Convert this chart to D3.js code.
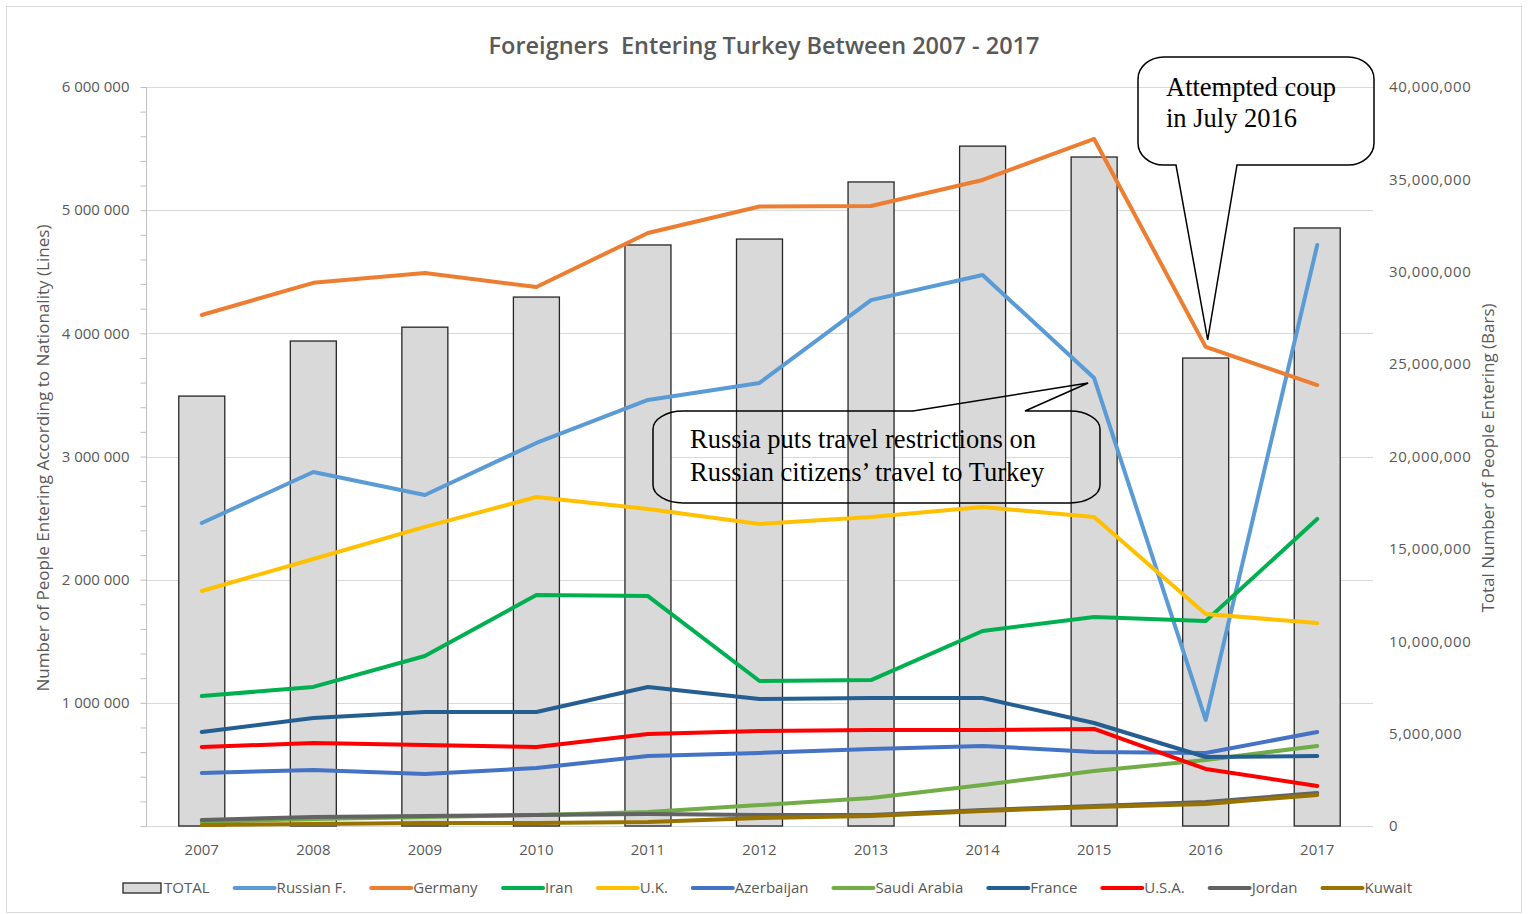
<!DOCTYPE html>
<meta charset="utf-8">
<style>
body { margin: 0; background: #fff; }
svg text { font-family: "Open Sans", sans-serif; fill: #595959; }
.callout text { font-family: "Liberation Serif", "Times New Roman", serif; fill: #000; font-size: 26.5px; }
</style>
<script src="https://cdn.jsdelivr.net/npm/d3@7"></script>
<body>
<svg id="chart" width="1528" height="914"></svg>
<script>
// values
var years = [2007, 2008, 2009, 2010, 2011, 2012, 2013, 2014, 2015, 2016, 2017];
var totals = [23.27e6, 26.25e6, 27.0e6, 28.63e6, 31.45e6, 31.77e6, 34.86e6, 36.8e6, 36.21e6, 25.33e6, 32.37e6];

var russia     = [2.46e6, 2.874e6, 2.687e6, 3.11e6, 3.459e6, 3.597e6, 4.27e6, 4.474e6, 3.637e6, 0.861e6, 4.717e6];
var germany    = [4.149e6, 4.41e6, 4.49e6, 4.376e6, 4.815e6, 5.03e6, 5.034e6, 5.245e6, 5.578e6, 3.89e6, 3.58e6];
var iran       = [1.055e6, 1.129e6, 1.38e6, 1.875e6, 1.867e6, 1.177e6, 1.185e6, 1.583e6, 1.697e6, 1.664e6, 2.493e6];
var uk         = [1.908e6, 2.168e6, 2.428e6, 2.671e6, 2.574e6, 2.452e6, 2.509e6, 2.59e6, 2.509e6, 1.721e6, 1.648e6];
var azerbaijan = [0.43e6, 0.455e6, 0.422e6, 0.471e6, 0.568e6, 0.593e6, 0.625e6, 0.65e6, 0.601e6, 0.593e6, 0.763e6];
var saudi      = [0.032e6, 0.057e6, 0.073e6, 0.089e6, 0.114e6, 0.17e6, 0.227e6, 0.333e6, 0.447e6, 0.536e6, 0.65e6];
var france     = [0.763e6, 0.877e6, 0.926e6, 0.926e6, 1.129e6, 1.031e6, 1.039e6, 1.039e6, 0.836e6, 0.56e6, 0.568e6];
var usa        = [0.641e6, 0.674e6, 0.658e6, 0.641e6, 0.747e6, 0.771e6, 0.779e6, 0.779e6, 0.788e6, 0.463e6, 0.325e6];
var jordan     = [0.049e6, 0.073e6, 0.081e6, 0.089e6, 0.097e6, 0.089e6, 0.089e6, 0.13e6, 0.162e6, 0.195e6, 0.268e6];
var kuwait     = [0.008e6, 0.016e6, 0.024e6, 0.024e6, 0.032e6, 0.065e6, 0.081e6, 0.122e6, 0.154e6, 0.179e6, 0.252e6];

var leftTicks = [0, 1e6, 2e6, 3e6, 4e6, 5e6, 6e6];
var rightTicks = [0, 5e6, 10e6, 15e6, 20e6, 25e6, 30e6, 35e6, 40e6];

var series = [
    { name: "Russian F.",   values: russia,     color: "#5b9bd5" },
    { name: "Germany",      values: germany,    color: "#ed7d31" },
    { name: "Iran",         values: iran,       color: "#00b050" },
    { name: "U.K.",         values: uk,         color: "#ffc000" },
    { name: "Azerbaijan",   values: azerbaijan, color: "#4472c4" },
    { name: "Saudi Arabia", values: saudi,      color: "#70ad47" },
    { name: "France",       values: france,     color: "#255e91" },
    { name: "U.S.A.",       values: usa,        color: "#ff0000" },
    { name: "Jordan",       values: jordan,     color: "#636363" },
    { name: "Kuwait",       values: kuwait,     color: "#997300" }
];

var svg = d3.select("#chart");

// outer frame
svg.append("rect")
    .attr("x", 6.5).attr("y", 6.5).attr("width", 1515).attr("height", 906)
    .attr("fill", "none").attr("stroke", "#d9d9d9");

var x = d3.scaleBand().domain(years).range([146, 1373]);
var yL = d3.scaleLinear().domain([0, 6e6]).range([826, 87]);
var yR = d3.scaleLinear().domain([0, 40e6]).range([826, 87]);
var cx = function(i) { return x(years[i]) + x.bandwidth() / 2; };

svg.append("text")
    .attr("x", 764).attr("y", 54)
    .attr("text-anchor", "middle")
    .style("white-space", "pre")
    .attr("font-size", 23.5).attr("font-weight", 600)
    .text("Foreigners  Entering Turkey Between 2007 - 2017");

// gridlines
svg.append("g").selectAll("line")
    .data(leftTicks)
    .join("line")
    .attr("x1", 146).attr("x2", 1373)
    .attr("y1", function(d) { return Math.round(yL(d)) + 0.5; })
    .attr("y2", function(d) { return Math.round(yL(d)) + 0.5; })
    .attr("stroke", "#d9d9d9");

// left axis with minor ticks every 200 000
var leftAxis = d3.axisLeft(yL)
    .tickValues(d3.range(0, 6e6 + 1, 2e5))
    .tickSize(6)
    .tickFormat(function(d) { return d % 1e6 === 0 && d > 0 ? d3.format(",")(d).replace(/,/g, " ") : ""; });
var gl = svg.append("g").attr("transform", "translate(146.5,0)").call(leftAxis);
gl.selectAll("line, path").attr("stroke", "#bfbfbf");
gl.select(".domain").attr("d", "M0," + yL(6e6) + "V" + yL(0));
gl.selectAll("text").attr("x", -17).attr("font-size", 15).attr("fill", "#595959")
    .style("font-family", "'Open Sans', sans-serif");

// right axis, labels only
var rightAxis = d3.axisRight(yR).tickValues(rightTicks).tickSize(0).tickFormat(d3.format(","));
var gr = svg.append("g").attr("transform", "translate(1373,0)").call(rightAxis);
gr.select(".domain").remove();
gr.selectAll("text").attr("x", 16).attr("font-size", 15).attr("fill", "#595959")
    .attr("letter-spacing", 0.6)
    .style("font-family", "'Open Sans', sans-serif");

// bottom axis labels
var gx = svg.append("g").attr("transform", "translate(0,826)")
    .call(d3.axisBottom(x).tickSize(0).tickPadding(18));
gx.select(".domain").remove();
gx.selectAll("text").attr("font-size", 15).attr("fill", "#595959")
    .style("font-family", "'Open Sans', sans-serif");

// axis titles
svg.append("text")
    .attr("transform", "translate(49,458) rotate(-90)")
    .attr("text-anchor", "middle").attr("font-size", 16)
    .attr("textLength", 467).attr("lengthAdjust", "spacingAndGlyphs")
    .text("Number of People Entering According to Nationality (Lines)");
svg.append("text")
    .attr("transform", "translate(1494,458) rotate(-90)")
    .attr("text-anchor", "middle").attr("font-size", 16)
    .attr("textLength", 309).attr("lengthAdjust", "spacingAndGlyphs")
    .text("Total Number of People Entering (Bars)");

// bars
var barW = 46;
svg.append("g").selectAll("rect")
    .data(totals)
    .join("rect")
    .attr("x", function(d, i) { return cx(i) - barW / 2; })
    .attr("y", function(d) { return yR(d); })
    .attr("width", barW)
    .attr("height", function(d) { return yR(0) - yR(d); })
    .attr("fill", "#d9d9d9")
    .attr("stroke", "#262626")
    .attr("stroke-width", 1.3);

// lines
var line = d3.line()
    .x(function(d, i) { return cx(i); })
    .y(function(d) { return yL(d); });
svg.append("g").selectAll("path")
    .data(series)
    .join("path")
    .attr("d", function(s) { return line(s.values); })
    .attr("fill", "none")
    .attr("stroke", function(s) { return s.color; })
    .attr("stroke-width", 4)
    .attr("stroke-linejoin", "round")
    .attr("stroke-linecap", "round");

// callouts
function calloutPath(x0, y0, x1, y1, rx, ry, side, p1, p2, tip) {
    var p = "M" + (x0 + rx) + "," + y0;
    if (side === "top") p += "L" + p1 + "," + y0 + "L" + tip[0] + "," + tip[1] + "L" + p2 + "," + y0;
    p += "L" + (x1 - rx) + "," + y0 + "A" + rx + "," + ry + " 0 0 1 " + x1 + "," + (y0 + ry);
    p += "L" + x1 + "," + (y1 - ry) + "A" + rx + "," + ry + " 0 0 1 " + (x1 - rx) + "," + y1;
    if (side === "bottom") p += "L" + p2 + "," + y1 + "L" + tip[0] + "," + tip[1] + "L" + p1 + "," + y1;
    p += "L" + (x0 + rx) + "," + y1 + "A" + rx + "," + ry + " 0 0 1 " + x0 + "," + (y1 - ry);
    p += "L" + x0 + "," + (y0 + ry) + "A" + rx + "," + ry + " 0 0 1 " + (x0 + rx) + "," + y0 + "Z";
    return p;
}

var callouts = svg.append("g").attr("class", "callout");
var ruTip = [cx(8) - 6, yL(russia[8]) + 5];
callouts.append("path")
    .attr("d", calloutPath(653, 411, 1100, 503, 30, 18, "top", 913, 1025, ruTip))
    .attr("fill", "none").attr("stroke", "#000").attr("stroke-width", 1.5);
callouts.append("text").attr("x", 690).attr("y", 448).text("Russia puts travel restrictions on");
callouts.append("text").attr("x", 690).attr("y", 481).text("Russian citizens\u2019 travel to Turkey");

var deTip = [cx(9) + 2, yL(germany[9]) - 7];
callouts.append("path")
    .attr("d", calloutPath(1138, 57, 1374, 165, 26, 22, "bottom", 1176, 1237, deTip))
    .attr("fill", "none").attr("stroke", "#000").attr("stroke-width", 1.5);
callouts.append("text").attr("x", 1166).attr("y", 96).text("Attempted coup");
callouts.append("text").attr("x", 1166).attr("y", 127).text("in July 2016");

// legend
var legendItems = [{ name: "TOTAL", bar: true }].concat(series);
var legend = svg.append("g").attr("transform", "translate(0,888)");
var items = legend.selectAll("g").data(legendItems).join("g");
items.each(function(d) {
    var g = d3.select(this);
    if (d.bar) {
        g.append("rect").attr("x", 0).attr("y", -5).attr("width", 38).attr("height", 10)
            .attr("fill", "#d9d9d9").attr("stroke", "#262626").attr("stroke-width", 1.3);
    } else {
        g.append("line").attr("x1", 0).attr("x2", 40).attr("y1", 0).attr("y2", 0)
            .attr("stroke", d.color).attr("stroke-width", 4).attr("stroke-linecap", "round");
    }
    g.append("text").attr("x", d.bar ? 41 : 42).attr("y", 5).attr("font-size", 15).text(d.name);
});
var widths = [];
items.each(function() { widths.push(this.getBBox().width); });
var totalW = d3.sum(widths);
var gap = (1412 - 123 - totalW) / (widths.length - 1);
var pos = 123;
items.attr("transform", function(d, i) {
    var t = "translate(" + pos + ",0)";
    pos += widths[i] + gap;
    return t;
});
</script>
</body>
